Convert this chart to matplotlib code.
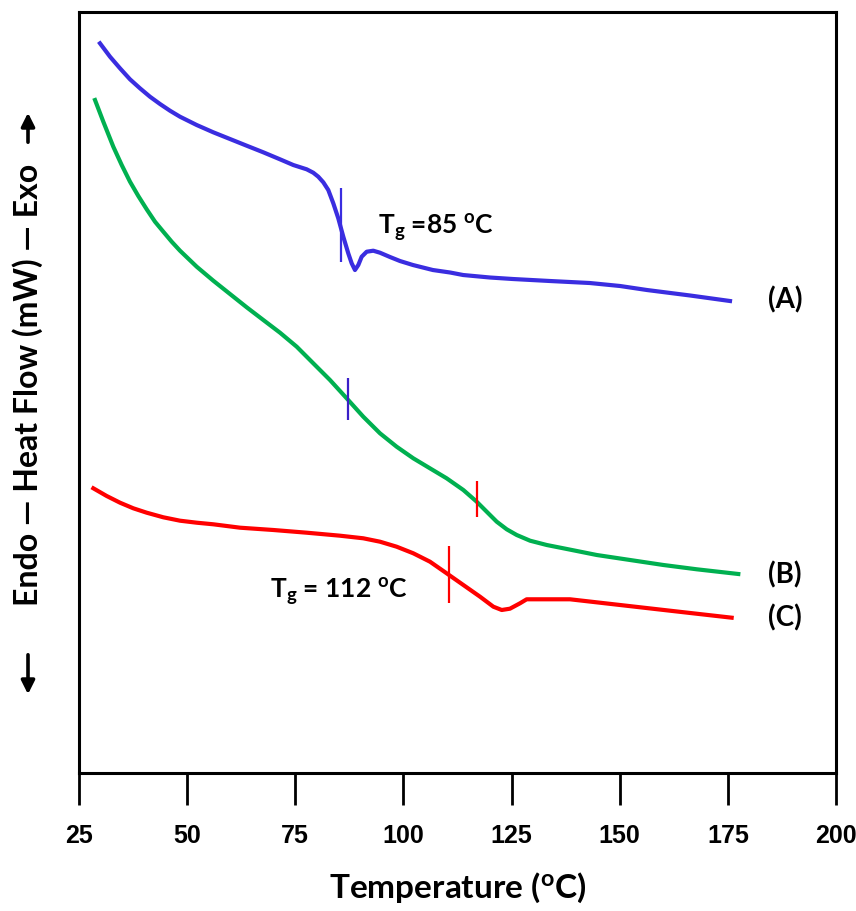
import matplotlib
matplotlib.use("Agg")
import matplotlib.pyplot as plt

# DSC traces (heat flow in arbitrary units)
temp_a = [29.85, 32.17, 34.48, 36.79, 39.10, 41.41, 43.73, 46.04, 48.35, 52.21,
          56.05, 59.91, 63.77, 67.61, 71.47, 74.54, 77.64, 79.16, 80.32, 81.48,
          82.63, 83.79, 84.94, 86.10, 87.25, 88.04, 88.80, 89.57, 90.35, 91.51,
          93.03, 94.58, 96.9, 99.2, 102.2, 106.8, 110.8, 113.8, 120.0, 125.3,
          133.9, 143.1, 150.1, 156.3, 166.3, 175.5]
flow_a = [729.7, 716.3, 704.7, 693.7, 684.7, 676.3, 669.0, 662.3, 656.3, 648.0,
          640.7, 634.0, 627.3, 620.7, 613.7, 608.0, 603.7, 600.3, 596.3, 590.7,
          583.0, 569.7, 554.7, 536.3, 519.7, 509.7, 503.0, 508.0, 516.3, 521.3,
          522.3, 520.3, 516.0, 512.0, 508.0, 503.0, 500.5, 498.0, 495.5, 494.0,
          492.0, 490.0, 487.0, 483.0, 477.5, 472.0]

temp_b = [28.70, 30.62, 32.93, 34.87, 36.79, 38.71, 40.65, 42.57, 44.49, 46.43,
          48.35, 52.21, 56.05, 59.91, 63.77, 67.61, 71.47, 75.33, 79.16, 83.02,
          86.88, 90.72, 94.58, 98.43, 102.28, 106.13, 109.99, 113.85, 116.94,
          119.25, 121.57, 123.88, 126.19, 129.28, 133.13, 136.98, 144.69, 152.39,
          160.10, 167.82, 177.42]
flow_b = [673.0, 651.3, 626.3, 608.0, 591.3, 577.0, 563.7, 551.3, 541.3, 531.3,
          522.3, 506.3, 492.3, 479.0, 465.7, 453.0, 440.3, 426.3, 409.7, 393.0,
          374.7, 356.3, 339.7, 326.3, 314.7, 304.7, 294.7, 283.0, 271.3,
          261.3, 251.3, 243.7, 238.0, 232.3, 228.0, 224.7, 218.0, 213.0,
          208.0, 203.7, 199.0]

temp_c = [28.31, 31.40, 34.48, 37.55, 40.65, 44.49, 48.35, 52.21, 56.05, 62.22,
          69.92, 77.64, 85.34, 90.72, 94.58, 98.43, 102.28, 106.14, 109.99,
          113.85, 117.71, 120.79, 122.73, 124.63, 126.95, 128.49, 133.89, 138.51,
          150.07, 161.62, 175.88]
flow_c = [284.7, 277.0, 270.3, 264.7, 260.3, 255.7, 252.3, 250.3, 248.7, 245.3,
          243.0, 240.3, 237.3, 234.7, 231.3, 226.3, 219.7, 211.3, 199.7,
          188.0, 176.3, 166.3, 163.0, 164.3, 169.7, 173.7, 173.7, 173.7,
          168.0, 162.3, 155.3]

# Tg markers (short vertical bars)
mark_t = [85.6, 87.2, 117.0, 110.5]
mark_lo = [511, 353, 256, 170]
mark_hi = [585, 395, 292, 227]
mark_col = ["#3a2de0", "#3a1fc8", "#ff0000", "#ff0000"]

curve_labels = ["(A)", "(B)", "(C)"]
label_y = [473, 198, 155]
xticks = [25, 50, 75, 100, 125, 150, 175, 200]

plt.rcParams["font.family"] = ["Lato", "DejaVu Sans"]
plt.rcParams["font.weight"] = "bold"
plt.rcParams["mathtext.fontset"] = "custom"
plt.rcParams["mathtext.rm"] = "Lato:bold"
plt.rcParams["mathtext.it"] = "Lato:bold"
plt.rcParams["mathtext.bf"] = "Lato:bold"

fig = plt.figure(figsize=(8.56, 9.11), dpi=100)
ax = fig.add_axes([0.0923, 0.1515, 0.8843, 0.8353])

ax.plot(temp_a, flow_a, color="#3a2de0", lw=3, solid_joinstyle="round")
ax.plot(temp_b, flow_b, color="#00b050", lw=3, solid_joinstyle="round")
ax.plot(temp_c, flow_c, color="#ff0000", lw=3, solid_joinstyle="round")

for t, lo, hi, c in zip(mark_t, mark_lo, mark_hi, mark_col):
    ax.vlines(t, lo, hi, color=c, lw=1.6)

for lab, y in zip(curve_labels, label_y):
    ax.text(188.2, y, lab, fontsize=20, fontweight="bold", ha="center", va="center")

ax.text(94.1, 545, r"T$_{\mathrm{g}}$ =85 $^{\mathrm{o}}$C", fontsize=19,
        fontweight="bold", ha="left", va="center")
ax.text(69.2, 181, r"T$_{\mathrm{g}}$ = 112 $^{\mathrm{o}}$C", fontsize=19,
        fontweight="bold", ha="left", va="center")

ax.set_xlim(25, 200)
ax.set_ylim(0, 761)
ax.set_xticks(xticks)
ax.set_yticks([])
ax.tick_params(axis="x", direction="out", length=23, width=2, pad=14)
for lbl in ax.get_xticklabels():
    lbl.set_fontfamily(["Liberation Sans", "DejaVu Sans"])
    lbl.set_fontsize(18)
    lbl.set_fontweight("bold")
for sp in ax.spines.values():
    sp.set_linewidth(2.2)

ax.set_xlabel(r"Temperature ($^{\mathrm{o}}$C)", fontsize=24, fontweight="bold", labelpad=16)

# rotated y label with separate arrows
fig.text(28 / 856, 1 - 385 / 911, "Endo \u2014 Heat Flow (mW) \u2014 Exo",
         rotation=90, fontsize=23, fontweight="bold", ha="center", va="center")
arrow = dict(arrowstyle="-|>", lw=2.6, color="black", mutation_scale=20)
ax.annotate("", xy=(28, 911 - 110), xytext=(28, 911 - 145),
            xycoords="figure pixels", textcoords="figure pixels", arrowprops=arrow)
ax.annotate("", xy=(28, 911 - 697), xytext=(28, 911 - 652),
            xycoords="figure pixels", textcoords="figure pixels", arrowprops=arrow)

fig.savefig("out.png", dpi=100)
